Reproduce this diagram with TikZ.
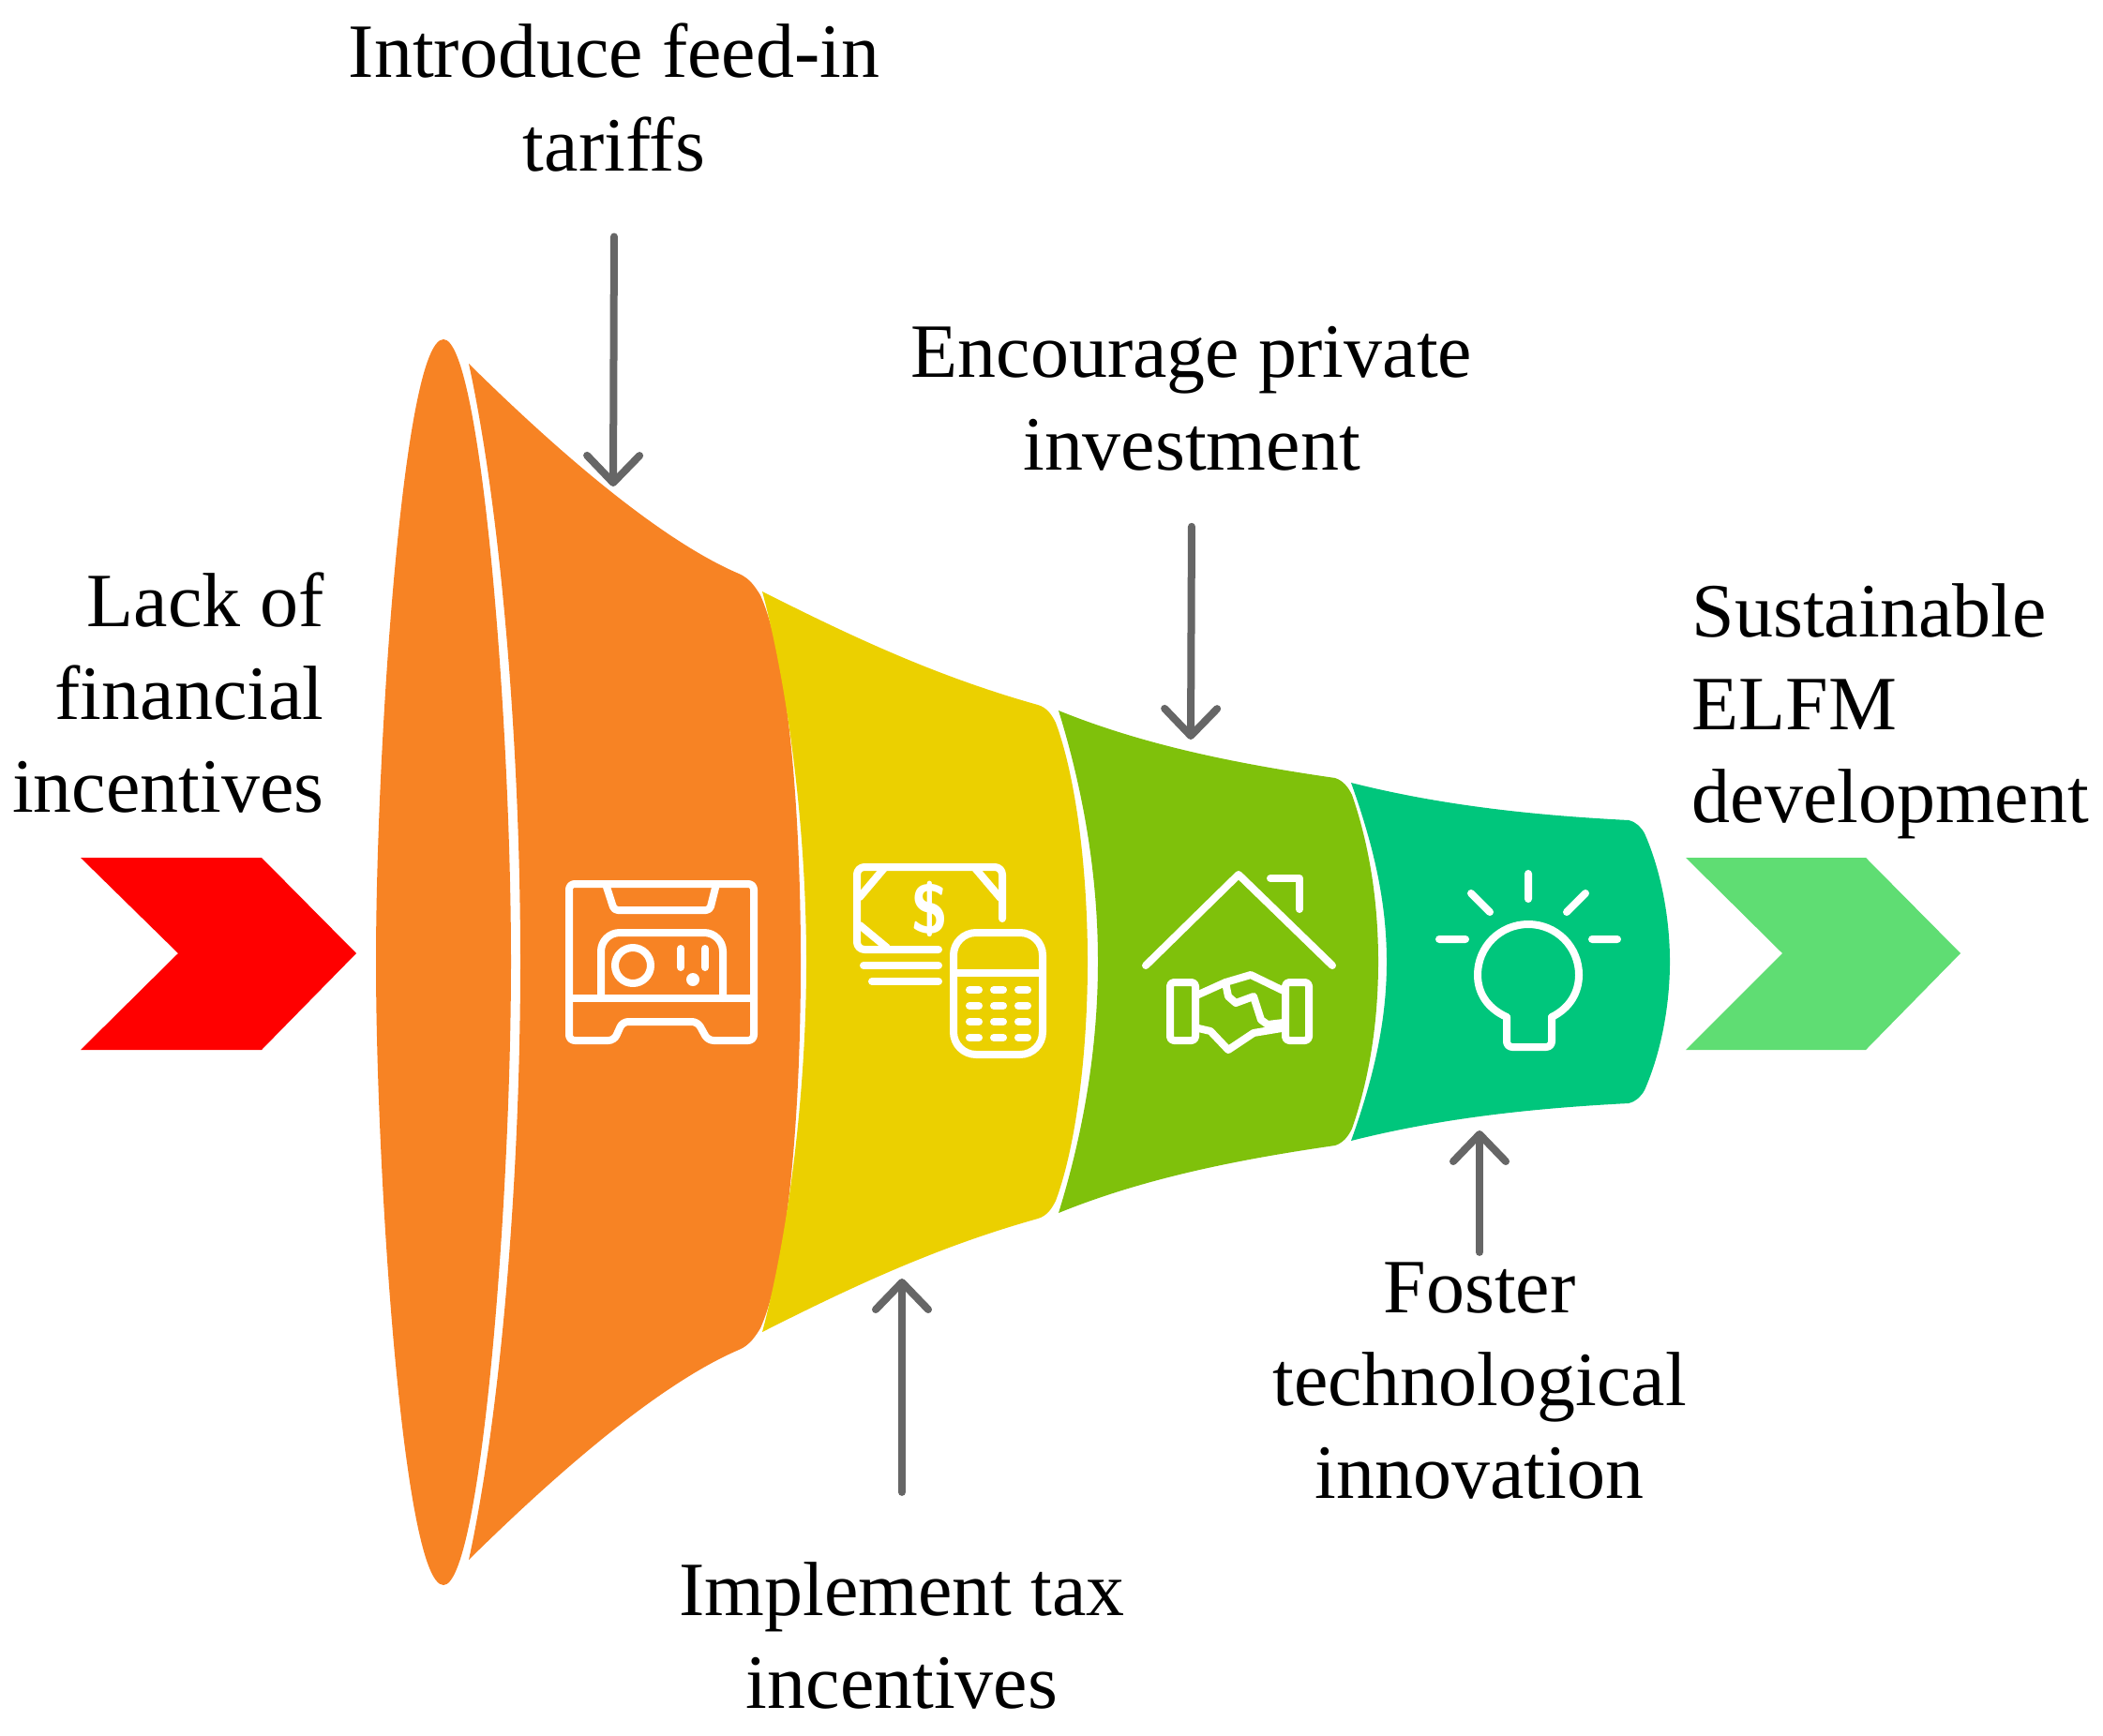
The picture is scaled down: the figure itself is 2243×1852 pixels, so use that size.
\documentclass[tikz,border=0pt]{standalone}
\usepackage{fontspec}
\setmainfont{Liberation Serif}
\usetikzlibrary{arrows.meta}
\definecolor{orangepart}{HTML}{F78324}
\definecolor{yellowpart}{HTML}{EBD000}
\definecolor{greenpart}{HTML}{7FC10B}
\definecolor{tealpart}{HTML}{00C67C}
\definecolor{exitgreen}{HTML}{5FDD73}
\definecolor{arrowgray}{HTML}{666666}
\begin{document}
\begin{tikzpicture}[x=.01cm,y=-.01cm,
    label/.style={font=\fontsize{23.3}{28.2}\selectfont,align=center,inner sep=0pt},
    pointer/.style={draw=arrowgray,line width=.08cm,line cap=round,line join=round,
      -{Straight Barb[length=.29cm,width=.56cm,round]},shorten <=.1cm},
    icon/.style={draw=white,line width=.08cm,line cap=round,line join=round}]
    \useasboundingbox (0,0) rectangle (2243,1852);
    \fill[red] (86,915) -- (279,915) -- (380,1017) -- (279,1120) -- (86,1120) -- (190,1017) -- cycle;
    \fill[exitgreen] (1798,915) -- (1990,915) -- (2091,1017) -- (1990,1120) -- (1798,1120) -- (1901,1017) -- cycle;
    \fill[orangepart] (473,362) .. controls (512,362) and (545,760) .. (545,1026)
      .. controls (545,1292) and (512,1691) .. (473,1691)
      .. controls (430,1691) and (401,1252) .. (401,1026)
      .. controls (401,800) and (430,362) .. (473,362) -- cycle;
    \fill[orangepart] (500,388) .. controls (565,452) and (690,570) .. (788,612)
      .. controls (800,617) and (806,627) .. (811,635)
      .. controls (840,700) and (854,860) .. (854,1026)
      .. controls (854,1192) and (840,1352) .. (811,1417)
      .. controls (806,1425) and (800,1435) .. (788,1440)
      .. controls (690,1482) and (565,1600) .. (500,1664)
      .. controls (535,1502) and (555,1252) .. (555,1026)
      .. controls (555,800) and (535,550) .. (500,388) -- cycle;
    \fill[yellowpart] (813,631) .. controls (910,680) and (1000,722) .. (1107,752)
      .. controls (1117,755) and (1122,763) .. (1126,771)
      .. controls (1148,830) and (1160,930) .. (1160,1026)
      .. controls (1160,1122) and (1148,1222) .. (1126,1281)
      .. controls (1122,1289) and (1117,1297) .. (1107,1300)
      .. controls (1000,1330) and (910,1372) .. (813,1421)
      .. controls (840,1320) and (860,1170) .. (860,1026)
      .. controls (860,882) and (840,732) .. (813,631) -- cycle;
    \fill[greenpart] (1129,758) .. controls (1220,795) and (1320,815) .. (1424,830)
      .. controls (1433,833) and (1438,840) .. (1442,848)
      .. controls (1460,900) and (1470,960) .. (1470,1026)
      .. controls (1470,1092) and (1460,1152) .. (1442,1204)
      .. controls (1438,1212) and (1433,1219) .. (1424,1222)
      .. controls (1320,1237) and (1220,1257) .. (1129,1294)
      .. controls (1155,1210) and (1171,1120) .. (1171,1026)
      .. controls (1171,932) and (1155,842) .. (1129,758) -- cycle;
    \fill[tealpart] (1441,835) .. controls (1540,860) and (1640,870) .. (1737,875)
      .. controls (1745,877) and (1750,882) .. (1754,889)
      .. controls (1772,930) and (1781,980) .. (1781,1026)
      .. controls (1781,1072) and (1772,1122) .. (1754,1163)
      .. controls (1750,1170) and (1745,1175) .. (1737,1177)
      .. controls (1640,1182) and (1540,1192) .. (1441,1217)
      .. controls (1465,1150) and (1479,1090) .. (1479,1026)
      .. controls (1479,962) and (1465,902) .. (1441,835) -- cycle;
    \draw[icon,rounded corners=.06cm] (607,943) -- (804,943) -- (804,1110) -- (755,1110) -- (744,1090) -- (664,1090) -- (655,1110) -- (607,1110) -- cycle;
    \draw[icon,rounded corners=.04cm] (646,943) -- (655,971) -- (757,971) -- (764,943);
    \draw[icon] (607,1065) -- (804,1065);
    \draw[icon,rounded corners=.2cm] (641,1065) -- (641,995) -- (771,995) -- (771,1065);
    \draw[icon] (675,1030) circle (19);
    \draw[icon] (726,1012) -- (726,1032) (752,1012) -- (752,1032);
    \fill[white] (739,1045) circle (7);
    \draw[icon,rounded corners=.08cm] (1069,980) -- (1069,925) -- (914,925) -- (914,1013) -- (1001,1013);
    \draw[icon] (944,925) -- (917,957) (1039,925) -- (1067,958) (917,987) -- (946,1011);
    \draw[icon] (921,1030) -- (1001,1030) (930,1047) -- (1001,1047);
    \node[font=\sffamily\bfseries\fontsize{21}{21}\selectfont,text=white,inner sep=0pt] (dollar) at (992,970) {\$};
    \draw[icon,rounded corners=.24cm] (1017,995) rectangle (1112,1125);
    \draw[icon] (1017,1038) -- (1112,1038);
    \foreach \col in {1039,1065,1091}
      \foreach \row in {1056,1073,1090,1107}
        \draw[icon] (\col-5,\row) -- (\col+5,\row);
    \draw[icon] (1222,1030) -- (1321,933) -- (1421,1030);
    \draw[icon] (1355,937) -- (1386,937) -- (1386,970);
    \draw[icon,rounded corners=.04cm] (1248,1048) rectangle (1275,1110);
    \draw[icon,rounded corners=.04cm] (1371,1048) rectangle (1396,1110);
    \draw[icon] (1276,1062) -- (1307,1048) -- (1334,1040) -- (1369,1057);
    \draw[icon] (1278,1097) -- (1291,1100) -- (1310,1120) -- (1337,1102) -- (1367,1097);
    \draw[icon] (1307,1048) -- (1310,1063) -- (1318,1070) -- (1337,1063) -- (1345,1088) -- (1352,1093) -- (1369,1091);
    \draw[icon,rounded corners=.06cm] (1607,1085) -- (1607,1117) -- (1655,1117) -- (1655,1085);
    \draw[icon] (1607,1085) .. controls (1585,1075) and (1576,1058) .. (1576,1040)
      .. controls (1576,1010) and (1600,986) .. (1630,986)
      .. controls (1660,986) and (1684,1010) .. (1684,1040)
      .. controls (1684,1058) and (1675,1075) .. (1655,1085);
    \draw[icon] (1630,932) -- (1630,959) (1569,953) -- (1589,973) (1691,953) -- (1671,973)
      (1535,1002) -- (1563,1002) (1698,1002) -- (1725,1002);
    \node[label,anchor=north east,align=right] (lack) at (346,610) {Lack of\\financial\\incentives};
    \node[label,anchor=north west,align=left] (sustain) at (1804,622) {Sustainable\\ELFM\\development};
    \node[label] (feedin) at (655,104) {Introduce feed-in\\tariffs};
    \node[label] (invest) at (1271,425) {Encourage private\\investment};
    \node[label] (taxes) at (962,1745) {Implement tax\\incentives};
    \node[label] (foster) at (1578,1473) {Foster\\technological\\innovation};
    \coordinate (feedtip) at (654,519);
    \coordinate (investtip) at (1270,789);
    \coordinate (taxtip) at (962,1364);
    \coordinate (fostertip) at (1578,1206);
    \draw[pointer] (feedin.south) ++(0,59) -- (feedtip);
    \draw[pointer] (invest.south) ++(0,49) -- (investtip);
    \draw[pointer] (taxes.north) ++(0,-64) -- (taxtip);
    \draw[pointer] (foster.north) ++(0,0) -- (fostertip);
  \end{tikzpicture}
\end{document}
